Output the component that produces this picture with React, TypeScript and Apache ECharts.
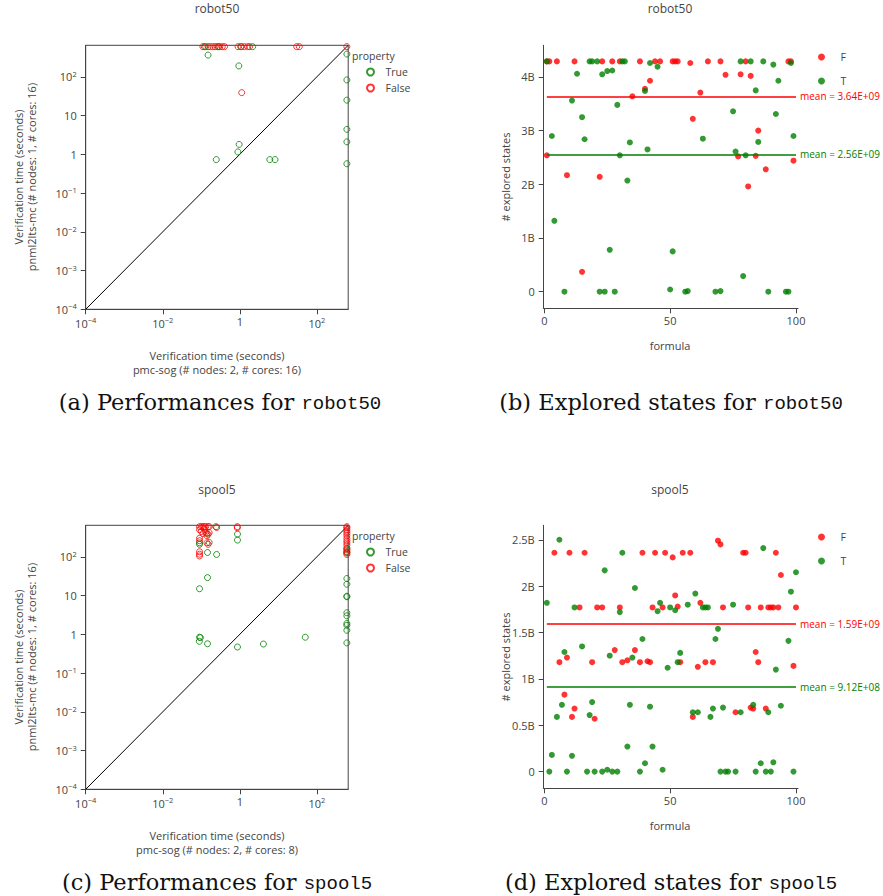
import React, { useEffect, useRef } from "react";
import * as echarts from "echarts";

// ---------- data ----------
const AXIS_MIN = 1e-4;
const AXIS_MAX = 650;
const TO = 600; // timeout value (seconds)

// (a) robot50 — [pmc-sog seconds, pnml2lts-mc seconds]
const robotPerfTrue: number[][] = [
  [0.12, TO], [0.15, TO], [0.28, TO], [1.05, TO], [2.15, TO],
  [0.15, 363], [0.94, 191], [0.96, 1.8], [0.89, 1.15], [0.245, 0.73], [6.0, 0.73], [8.2, 0.73],
  [TO, 386], [TO, 83], [TO, 25], [TO, 4.4], [TO, 2.1], [TO, 0.57],
];
const robotPerfFalse: number[][] = [
  [0.11, TO], [0.13, TO], [0.17, TO], [0.2, TO], [0.23, TO], [0.26, TO], [0.3, TO], [0.35, TO], [0.4, TO],
  [0.9, TO], [1.1, TO], [1.3, TO], [1.6, TO], [1.8, TO], [30, TO], [35, TO], [TO, TO], [1.12, 39],
];

// (c) spool5
const spoolPerfTrue: number[][] = [
  [0.089, 0.66], [0.09, 0.84], [0.095, 0.82], [0.145, 0.57], [0.87, 0.47], [4.1, 0.56], [50, 0.84],
  [0.09, 15], [0.145, 29], [0.145, 129], [0.25, 115], [0.09, 230], [0.09, 210], [0.16, 234], [0.14, 400],
  [0.87, 386], [0.87, 270], [0.24, TO],
  [TO, 27.5], [TO, 19.6], [TO, 9.6], [TO, 9.3], [TO, 3.6], [TO, 3.0], [TO, 1.9], [TO, 1.7], [TO, 1.27], [TO, 0.6],
  [TO, 160], [TO, 135], [TO, 125],
];
const spoolPerfFalse: number[][] = [
  [0.09, TO], [0.1, TO], [0.11, TO], [0.12, TO], [0.13, TO], [0.15, TO], [0.16, TO],
  [0.09, 500], [0.1, 450], [0.12, 520], [0.13, 420], [0.15, 380], [0.11, 400], [0.09, 300], [0.09, 260],
  [0.14, 350], [0.16, 420], [0.14, 230], [0.15, 210], [0.09, 135], [0.09, 117], [0.09, 105],
  [0.86, TO], [0.86, 560], [0.25, 570],
  [TO, TO], [TO, 560], [TO, 500], [TO, 450], [TO, 400], [TO, 350], [TO, 300], [TO, 260], [TO, 230],
  [TO, 200], [TO, 170], [TO, 150], [TO, 130], [TO, 115],
];

// (b) robot50 explored states — [formula, states]
const robotStatesF: number[][] = [
  [1, 4.29e9], [2, 4.29e9], [5, 4.29e9], [12, 4.29e9], [23, 4.29e9], [27, 4.29e9], [30, 4.29e9], [38, 4.29e9],
  [44, 4.29e9], [46, 4.29e9], [51, 4.29e9], [52, 4.29e9], [53, 4.29e9], [58, 4.26e9], [65, 4.29e9], [70, 4.29e9],
  [80, 4.29e9], [97, 4.29e9], [98, 4.29e9],
  [1, 2.54e9], [9, 2.17e9], [22, 2.14e9], [15, 0.37e9], [35, 3.64e9], [40, 3.78e9], [42, 3.93e9], [62, 3.71e9],
  [59, 3.22e9], [72, 4.04e9], [78, 4.05e9], [82, 4.02e9], [77, 2.52e9], [84, 2.53e9], [85, 3.0e9], [81, 1.96e9],
  [88, 2.28e9], [99, 2.44e9],
];
const robotStatesT: number[][] = [
  [1, 4.29e9], [18, 4.29e9], [19, 4.29e9], [21, 4.29e9], [31, 4.29e9], [32, 4.29e9], [78, 4.29e9], [82, 4.29e9],
  [87, 4.29e9], [91, 4.23e9], [98, 4.26e9],
  [42, 4.26e9], [45, 4.19e9], [13, 4.06e9], [23, 4.05e9], [25, 4.11e9], [27, 4.12e9], [40, 3.74e9], [11, 3.56e9],
  [29, 3.48e9], [15, 3.25e9], [3, 2.9e9], [16, 2.84e9], [34, 2.78e9], [41, 2.65e9], [30, 2.54e9], [33, 2.07e9],
  [4, 1.32e9], [26, 0.78e9], [51, 0.75e9], [8, 0], [22, 0], [24, 0], [28, 0], [50, 0.04e9],
  [93, 3.93e9], [84, 3.75e9], [75, 3.36e9], [92, 3.31e9], [63, 2.85e9], [85, 2.79e9], [99, 2.9e9], [76, 2.61e9],
  [80, 2.54e9], [79, 0.29e9], [56, 0], [57, 0.01e9], [68, 0], [70, 0.01e9], [89, 0], [96, 0], [97, 0],
];
const robotMeanF = 3.64e9;
const robotMeanT = 2.56e9;

// (d) spool5 explored states
const spoolStatesF: number[][] = [
  [4, 2.36e9], [10, 2.36e9], [16, 2.36e9], [39, 2.36e9], [44, 2.36e9], [48, 2.36e9], [51, 2.31e9], [55, 2.36e9],
  [58, 2.36e9], [69, 2.49e9], [70, 2.45e9], [79, 2.36e9], [80, 2.36e9], [92, 2.36e9], [94, 2.12e9],
  [52, 1.9e9], [14, 1.77e9], [21, 1.77e9], [23, 1.77e9], [30, 1.77e9], [43, 1.77e9], [47, 1.77e9], [53, 1.78e9],
  [62, 1.82e9], [71, 1.77e9], [81, 1.77e9], [86, 1.77e9], [89, 1.77e9], [90, 1.77e9], [91, 1.77e9], [93, 1.77e9],
  [100, 1.77e9],
  [9, 1.23e9], [6, 1.18e9], [19, 1.18e9], [28, 1.31e9], [31, 1.18e9], [33, 1.2e9], [36, 1.31e9], [38, 1.18e9],
  [41, 1.19e9], [42, 1.18e9], [54, 1.18e9], [61, 1.13e9], [64, 1.18e9], [67, 1.18e9], [84, 1.29e9], [85, 1.18e9],
  [99, 1.14e9],
  [8, 0.83e9], [12, 0.68e9], [11, 0.59e9], [20, 0.57e9], [59, 0.59e9], [76, 0.64e9], [82, 0.69e9], [83, 0.68e9],
  [88, 0.68e9],
];
const spoolStatesT: number[][] = [
  [6, 2.5e9], [31, 2.36e9], [24, 2.17e9], [36, 1.98e9], [87, 2.41e9], [100, 2.15e9], [60, 1.92e9], [98, 1.94e9],
  [1, 1.82e9], [12, 1.77e9], [30, 1.72e9], [46, 1.82e9], [45, 1.73e9], [50, 1.77e9], [52, 1.74e9], [57, 1.8e9],
  [63, 1.77e9], [64, 1.77e9], [65, 1.77e9], [75, 1.8e9],
  [39, 1.43e9], [15, 1.35e9], [8, 1.29e9], [26, 1.25e9], [35, 1.23e9], [49, 1.12e9], [69, 1.54e9], [68, 1.43e9],
  [97, 1.41e9], [54, 1.28e9], [53, 1.18e9], [92, 1.1e9],
  [7, 0.72e9], [5, 0.59e9], [18, 0.61e9], [19, 0.75e9], [34, 0.72e9], [42, 0.7e9], [59, 0.64e9], [61, 0.64e9],
  [67, 0.68e9], [66, 0.59e9], [71, 0.69e9], [78, 0.64e9], [83, 0.72e9], [89, 0.64e9], [94, 0.71e9],
  [33, 0.27e9], [43, 0.27e9], [3, 0.18e9], [11, 0.17e9], [40, 0.09e9], [47, 0.02e9], [86, 0.09e9], [91, 0.1e9],
  [2, 0], [9, 0], [17, 0], [20, 0], [23, 0], [25, 0.02e9], [27, 0], [29, 0], [38, 0], [70, 0], [72, 0], [73, 0],
  [76, 0], [84, 0], [88, 0], [90, 0], [99, 0],
];
const spoolMeanF = 1.59e9;
const spoolMeanT = 9.12e8;

// tick values
const logTicksX = [1e-4, 1e-2, 1, 1e2];
const logTicksY = [1e-4, 1e-3, 1e-2, 1e-1, 1, 10, 100];
const formulaTicks = [0, 50, 100];
const robotStateTicks = [0, 1e9, 2e9, 3e9, 4e9];
const spoolStateTicks = [0, 0.5e9, 1e9, 1.5e9, 2e9, 2.5e9];

// ---------- styling helpers ----------
const FONT = "Open Sans";
const GREY = "#444";
const GREEN = "#008000";
const RED = "#ff0000";

const fmtLog = (v: number) => {
  const e = Math.round(Math.log10(v));
  if (e === 0) return "1";
  if (e === 1) return "10";
  return `{b|10}{s|${e < 0 ? "\u2212" + -e : e}}`;
};
const logRich = {
  b: { fontSize: 11, color: GREY, fontFamily: FONT, lineHeight: 14 },
  s: { fontSize: 7.5, color: GREY, fontFamily: FONT, verticalAlign: "top", lineHeight: 9 },
};
const fmtStates = (v: number) => (v === 0 ? "0" : `${+(v / 1e9).toFixed(1)}B`);
const fmtMean = (v: number) => {
  const e = Math.floor(Math.log10(v));
  const m = (v / Math.pow(10, e)).toFixed(2);
  return `mean = ${m}E+${String(e).padStart(2, "0")}`;
};

const axisLineStyle = { color: GREY, width: 1 };

function logAxis(gridIndex: number, ticks: number[], isX: boolean) {
  return {
    type: "log",
    logBase: 10,
    gridIndex,
    min: AXIS_MIN,
    max: AXIS_MAX,
    axisLine: { show: true, onZero: false, lineStyle: axisLineStyle },
    axisTick: { show: true, inside: false, length: 5, customValues: ticks, lineStyle: axisLineStyle },
    axisLabel: {
      customValues: ticks,
      formatter: fmtLog,
      rich: logRich,
      margin: isX ? 7 : 9,
      color: GREY,
      fontFamily: FONT,
      fontSize: 11,
    },
    splitLine: { show: false },
    minorTick: { show: false },
  };
}

function valueAxis(gridIndex: number, ticks: number[], min: number, max: number, isX: boolean) {
  return {
    type: "value",
    gridIndex,
    min,
    max,
    axisLine: { show: true, onZero: false, lineStyle: axisLineStyle },
    axisTick: { show: true, inside: false, length: 5, customValues: ticks, lineStyle: axisLineStyle },
    axisLabel: {
      customValues: ticks,
      formatter: isX ? (v: number) => String(v) : fmtStates,
      margin: isX ? 7 : 9,
      color: GREY,
      fontFamily: FONT,
      fontSize: 11,
    },
    splitLine: { show: false },
  };
}

function perfSeries(name: string, data: number[][], color: string, idx: number) {
  return {
    type: "scatter",
    name,
    xAxisIndex: idx,
    yAxisIndex: idx,
    data,
    symbol: "circle",
    symbolSize: 6,
    itemStyle: { color: "rgba(0,0,0,0)", borderColor: color, borderWidth: 1 },
    z: 3,
  };
}

function diagSeries(idx: number) {
  return {
    type: "line",
    name: "y = x",
    xAxisIndex: idx,
    yAxisIndex: idx,
    data: [
      [AXIS_MIN, AXIS_MIN],
      [AXIS_MAX, AXIS_MAX],
    ],
    symbol: "none",
    lineStyle: { color: "#000", width: 1 },
    z: 2,
    silent: true,
  };
}

function statesSeries(name: string, data: number[][], color: string, idx: number, mean: number) {
  return {
    type: "scatter",
    name,
    xAxisIndex: idx,
    yAxisIndex: idx,
    data,
    symbol: "circle",
    symbolSize: 6,
    itemStyle: { color },
    z: 3,
    markLine: {
      silent: true,
      symbol: ["none", "none"],
      lineStyle: { color, width: 1.5, type: "solid" },
      label: {
        show: true,
        position: "end",
        distance: 4,
        formatter: fmtMean(mean),
        color,
        fontSize: 10,
        fontFamily: FONT,
        overflow: "none",
      },
      data: [[{ coord: [1, mean] }, { coord: [100, mean] }]],
    },
  };
}

function txt(text: string, x: number, y: number, opts: any = {}) {
  const { rotation, fontSize = 11, color = GREY, lineHeight, align = "center", ...rest } = opts;
  return {
    type: "text",
    x,
    y,
    rotation: rotation || 0,
    silent: true,
    style: {
      text,
      fill: color,
      font: `${fontSize}px "${FONT}"`,
      fontSize,
      fontFamily: FONT,
      lineHeight: lineHeight || fontSize + 3,
      align,
      textAlign: align,
      verticalAlign: "middle",
      textVerticalAlign: "middle",
      ...rest,
    },
  };
}

function caption(label: string, mono: string, x: number, y: number) {
  return {
    type: "text",
    x,
    y,
    silent: true,
    style: {
      text: `{r|${label} }{m|${mono}}`,
      align: "center",
      textAlign: "center",
      verticalAlign: "middle",
      textVerticalAlign: "middle",
      rich: {
        r: {
          font: '22.5px "DejaVu Serif"', fontFamily: "DejaVu Serif", fontSize: 22.5, fill: "#111",
          lineHeight: 26, verticalAlign: "bottom",
        },
        m: {
          font: '19px "Liberation Mono"', fontFamily: "Liberation Mono", fontSize: 19, fill: "#111",
          lineHeight: 23, verticalAlign: "bottom",
        },
      },
    },
  };
}

const legendText = { fontSize: 10.5, color: GREY, fontFamily: FONT, lineHeight: 14 };

const App = () => {
  const ref = useRef<HTMLDivElement>(null);
  useEffect(() => {
    if (!ref.current) return;
    const chart = echarts.init(ref.current, undefined, { renderer: "svg" });
    const grids = [
      { left: 85.7, top: 45.3, width: 262.5, height: 264, show: true, borderColor: GREY, borderWidth: 1, backgroundColor: "transparent" },
      { left: 543.7, top: 45.3, width: 254.3, height: 263 },
      { left: 85.7, top: 525.3, width: 262.5, height: 264, show: true, borderColor: GREY, borderWidth: 1, backgroundColor: "transparent" },
      { left: 543.7, top: 525.3, width: 254.3, height: 263 },
    ];
    const option: any = {
      animation: false,
      backgroundColor: "#fff",
      textStyle: { fontFamily: FONT },
      grid: grids,
      xAxis: [
        logAxis(0, logTicksX, true),
        valueAxis(1, formulaTicks, -0.24, 100.8, true),
        logAxis(2, logTicksX, true),
        valueAxis(3, formulaTicks, -0.24, 100.8, true),
      ],
      yAxis: [
        logAxis(0, logTicksY, false),
        valueAxis(1, robotStateTicks, -0.31e9, 4.59e9, false),
        logAxis(2, logTicksY, false),
        valueAxis(3, spoolStateTicks, -0.18e9, 2.656e9, false),
      ],
      legend: [
        {
          left: 366, top: 65, orient: "vertical", padding: 0, itemWidth: 20, itemHeight: 7, itemGap: 2,
          selectedMode: false, data: ["True", "False"], textStyle: legendText,
        },
        {
          left: 818, top: 50, orient: "vertical", padding: 0, itemWidth: 28, itemHeight: 7, itemGap: 10,
          selectedMode: false, data: ["F", "T"], textStyle: legendText,
        },
        {
          left: 366, top: 545, orient: "vertical", padding: 0, itemWidth: 20, itemHeight: 7, itemGap: 2,
          selectedMode: false, data: ["True", "False"], textStyle: legendText,
        },
        {
          left: 818, top: 530, orient: "vertical", padding: 0, itemWidth: 28, itemHeight: 7, itemGap: 10,
          selectedMode: false, data: ["F", "T"], textStyle: legendText,
        },
      ],
      series: [
        diagSeries(0),
        perfSeries("True", robotPerfTrue, GREEN, 0),
        perfSeries("False", robotPerfFalse, RED, 0),
        statesSeries("F", robotStatesF, RED, 1, robotMeanF),
        statesSeries("T", robotStatesT, GREEN, 1, robotMeanT),
        diagSeries(2),
        perfSeries("True", spoolPerfTrue, GREEN, 2),
        perfSeries("False", spoolPerfFalse, RED, 2),
        statesSeries("F", spoolStatesF, RED, 3, spoolMeanF),
        statesSeries("T", spoolStatesT, GREEN, 3, spoolMeanT),
      ],
      graphic: [
        txt("robot50", 217, 8, { fontSize: 12 }),
        txt("robot50", 670, 8, { fontSize: 12 }),
        txt("spool5", 217, 489, { fontSize: 12 }),
        txt("spool5", 670, 489, { fontSize: 12 }),
        txt("Verification time (seconds)\npnml2lts-mc (# nodes: 1, # cores: 16)", 24.5, 177, { rotation: Math.PI / 2, lineHeight: 13 }),
        txt("Verification time (seconds)\npnml2lts-mc (# nodes: 1, # cores: 16)", 24.5, 657, { rotation: Math.PI / 2, lineHeight: 13 }),
        txt("Verification time (seconds)\npmc-sog (# nodes: 2, # cores: 16)", 217, 362, { lineHeight: 14 }),
        txt("Verification time (seconds)\npmc-sog (# nodes: 2, # cores: 8)", 217, 842, { lineHeight: 14 }),
        txt("# explored states", 505, 177, { rotation: Math.PI / 2 }),
        txt("# explored states", 505, 657, { rotation: Math.PI / 2 }),
        txt("formula", 670, 345),
        txt("formula", 670, 825),
        txt("property", 352, 56, { align: "left", fontSize: 10.5 }),
        txt("property", 352, 536, { align: "left", fontSize: 10.5 }),
        caption("(a) Performances for", "robot50", 220, 400),
        caption("(b) Explored states for", "robot50", 671, 400),
        caption("(c) Performances for", "spool5", 217, 880),
        caption("(d) Explored states for", "spool5", 671, 880),
      ],
    };
    chart.setOption(option);
    return () => chart.dispose();
  }, []);
  return <div ref={ref} style={{ position: "fixed", left: 0, top: 0, width: 883, height: 896 }} />;
};

export default App;
